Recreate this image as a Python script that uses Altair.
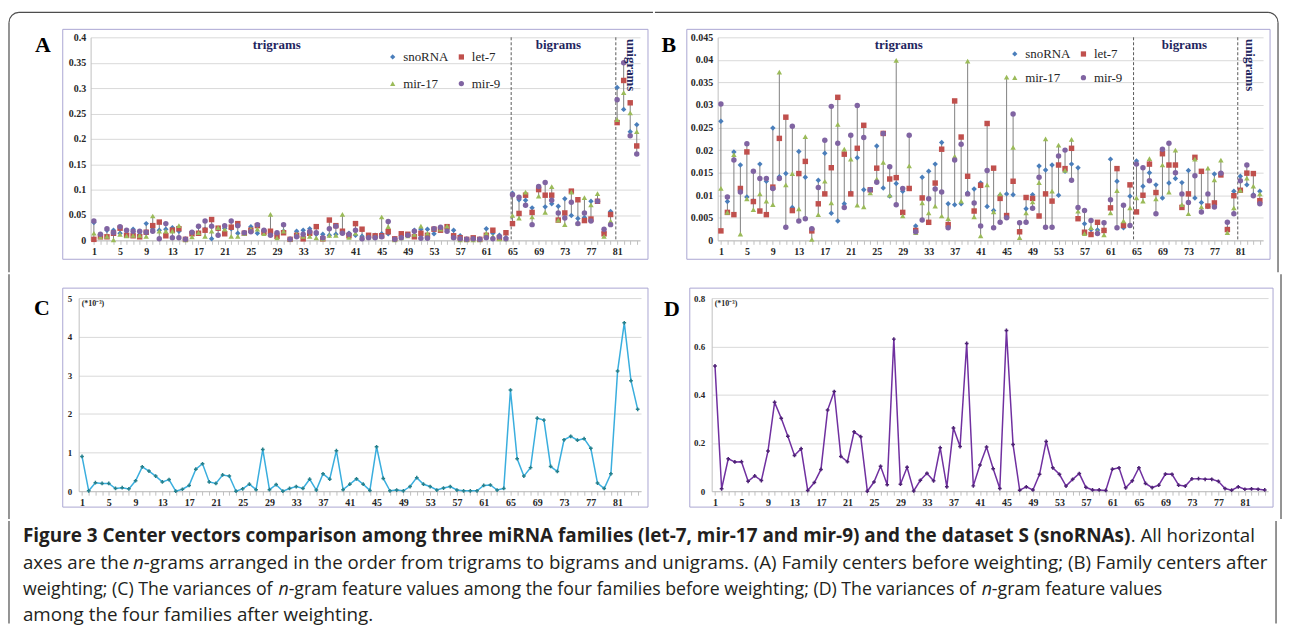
import altair as alt
import pandas as pd

IDX = list(range(1, 85))
FAMILIES = ["snoRNA", "let-7", "mir-17", "mir-9"]

# ---------------- Panel A: family centers before weighting ----------------
A_snoRNA = [0.035, 0.010, 0.020, 0.020, 0.014, 0.013, 0.022, 0.012, 0.033, 0.022,
            0.020, 0.022, 0.025, 0.018, 0.002, 0.015, 0.027, 0.022, 0.003, 0.023,
            0.024, 0.023, 0.014, 0.014, 0.027, 0.014, 0.018, 0.013, 0.014, 0.018,
            0.002, 0.018, 0.020, 0.023, 0.012, 0.012, 0.010, 0.012, 0.016, 0.014,
            0.010, 0.008, 0.007, 0.010, 0.013, 0.013, 0.003, 0.009, 0.010, 0.020,
            0.022, 0.022, 0.013, 0.023, 0.022, 0.020, 0.009, 0.002, 0.003, 0.002,
            0.023, 0.014, 0.010, 0.005, 0.093, 0.080, 0.079, 0.064, 0.103, 0.066,
            0.072, 0.067, 0.082, 0.049, 0.043, 0.045, 0.077, 0.077, 0.015, 0.057,
            0.301, 0.258, 0.214, 0.228]
A_let7 = [0.002, 0.007, 0.007, 0.014, 0.024, 0.010, 0.009, 0.007, 0.016, 0.029,
          0.036, 0.009, 0.020, 0.023, 0.002, 0.013, 0.014, 0.020, 0.041, 0.024,
          0.013, 0.026, 0.033, 0.014, 0.020, 0.029, 0.016, 0.018, 0.008, 0.015,
          0.002, 0.010, 0.003, 0.014, 0.027, 0.003, 0.040, 0.029, 0.018, 0.009,
          0.033, 0.022, 0.010, 0.009, 0.009, 0.017, 0.003, 0.013, 0.012, 0.007,
          0.014, 0.010, 0.022, 0.020, 0.027, 0.009, 0.005, 0.002, 0.005, 0.002,
          0.010, 0.020, 0.005, 0.015, 0.033, 0.053, 0.089, 0.055, 0.100, 0.089,
          0.089, 0.040, 0.054, 0.097, 0.080, 0.039, 0.042, 0.077, 0.013, 0.051,
          0.232, 0.315, 0.271, 0.186]
A_mir17 = [0.014, 0.007, 0.008, 0.001, 0.012, 0.009, 0.010, 0.010, 0.008, 0.048,
           0.018, 0.018, 0.018, 0.029, 0.001, 0.007, 0.015, 0.008, 0.018, 0.025,
           0.022, 0.008, 0.008, 0.013, 0.022, 0.022, 0.013, 0.051, 0.005, 0.018,
           0.002, 0.012, 0.008, 0.008, 0.005, 0.003, 0.010, 0.010, 0.051, 0.006,
           0.014, 0.006, 0.007, 0.007, 0.046, 0.027, 0.001, 0.005, 0.009, 0.012,
           0.028, 0.014, 0.023, 0.022, 0.028, 0.007, 0.001, 0.001, 0.001, 0.001,
           0.014, 0.008, 0.003, 0.003, 0.049, 0.044, 0.095, 0.046, 0.087, 0.055,
           0.106, 0.040, 0.031, 0.095, 0.034, 0.084, 0.070, 0.092, 0.008, 0.038,
           0.238, 0.291, 0.251, 0.214]
A_mir9 = [0.038, 0.012, 0.023, 0.015, 0.027, 0.020, 0.018, 0.018, 0.016, 0.018,
          0.003, 0.033, 0.005, 0.005, 0.002, 0.016, 0.028, 0.038, 0.028, 0.010,
          0.029, 0.038, 0.029, 0.015, 0.017, 0.031, 0.020, 0.010, 0.015, 0.031,
          0.002, 0.007, 0.012, 0.017, 0.015, 0.005, 0.023, 0.028, 0.014, 0.012,
          0.020, 0.003, 0.005, 0.005, 0.007, 0.037, 0.002, 0.005, 0.010, 0.018,
          0.004, 0.004, 0.023, 0.026, 0.018, 0.005, 0.003, 0.002, 0.003, 0.002,
          0.005, 0.003, 0.007, 0.003, 0.090, 0.085, 0.069, 0.031, 0.106, 0.114,
          0.079, 0.054, 0.044, 0.075, 0.033, 0.054, 0.038, 0.077, 0.022, 0.031,
          0.277, 0.350, 0.206, 0.170]

# ---------------- Panel B: family centers after weighting ----------------
B_snoRNA = [0.0264, 0.0086, 0.0196, 0.0167, 0.0096, 0.0088, 0.0169, 0.0131, 0.0249, 0.0141,
            0.0148, 0.0073, 0.0197, 0.0140, 0.0024, 0.0133, 0.0193, 0.0060, 0.0043, 0.0081,
            0.0105, 0.0183, 0.0112, 0.0111, 0.0209, 0.0116, 0.0098, 0.0126, 0.0109, 0.0115,
            0.0032, 0.0140, 0.0153, 0.0169, 0.0217, 0.0081, 0.0079, 0.0081, 0.0105, 0.0114,
            0.0127, 0.0075, 0.0066, 0.0100, 0.0103, 0.0101, 0.0020, 0.0070, 0.0101, 0.0165,
            0.0156, 0.0167, 0.0100, 0.0153, 0.0169, 0.0161, 0.0037, 0.0024, 0.0023, 0.0022,
            0.0180, 0.0131, 0.0028, 0.0098, 0.0176, 0.0120, 0.0150, 0.0123, 0.0094, 0.0127,
            0.0137, 0.0128, 0.0155, 0.0094, 0.0084, 0.0075, 0.0147, 0.0147, 0.0025, 0.0109,
            0.0142, 0.0123, 0.0101, 0.0109]
B_let7 = [0.0021, 0.0062, 0.0057, 0.0115, 0.0196, 0.0086, 0.0065, 0.0057, 0.0118, 0.0226,
          0.0273, 0.0066, 0.0148, 0.0175, 0.0021, 0.0081, 0.0103, 0.0161, 0.0317, 0.0191,
          0.0103, 0.0204, 0.0255, 0.0112, 0.0160, 0.0237, 0.0136, 0.0139, 0.0062, 0.0115,
          0.0022, 0.0094, 0.0040, 0.0127, 0.0202, 0.0035, 0.0309, 0.0229, 0.0142, 0.0065,
          0.0122, 0.0259, 0.0160, 0.0093, 0.0055, 0.0131, 0.0019, 0.0095, 0.0093, 0.0054,
          0.0103, 0.0087, 0.0167, 0.0159, 0.0204, 0.0048, 0.0018, 0.0013, 0.0040, 0.0022,
          0.0072, 0.0159, 0.0033, 0.0123, 0.0063, 0.0100, 0.0169, 0.0106, 0.0192, 0.0167,
          0.0167, 0.0073, 0.0103, 0.0184, 0.0153, 0.0076, 0.0083, 0.0145, 0.0024, 0.0099,
          0.0111, 0.0149, 0.0148, 0.0088]
B_mir17 = [0.0115, 0.0062, 0.0190, 0.0014, 0.0092, 0.0068, 0.0103, 0.0087, 0.0079, 0.0373,
           0.0123, 0.0148, 0.0070, 0.0230, 0.0002, 0.0057, 0.0131, 0.0083, 0.0257, 0.0202,
           0.0180, 0.0078, 0.0074, 0.0105, 0.0136, 0.0173, 0.0100, 0.0399, 0.0054, 0.0165,
           0.0017, 0.0083, 0.0061, 0.0076, 0.0054, 0.0048, 0.0186, 0.0087, 0.0397, 0.0052,
           0.0010, 0.0123, 0.0063, 0.0103, 0.0362, 0.0206, 0.0006, 0.0061, 0.0085, 0.0128,
           0.0225, 0.0109, 0.0211, 0.0155, 0.0224, 0.0065, 0.0015, 0.0028, 0.0020, 0.0012,
           0.0061, 0.0110, 0.0043, 0.0072, 0.0094, 0.0087, 0.0181, 0.0092, 0.0167, 0.0107,
           0.0200, 0.0079, 0.0059, 0.0180, 0.0074, 0.0160, 0.0134, 0.0178, 0.0017, 0.0072,
           0.0111, 0.0138, 0.0120, 0.0103]
B_mir9 = [0.0302, 0.0096, 0.0178, 0.0107, 0.0214, 0.0153, 0.0137, 0.0137, 0.0115, 0.0137,
          0.0029, 0.0253, 0.0043, 0.0048, 0.0026, 0.0117, 0.0222, 0.0297, 0.0215, 0.0073,
          0.0233, 0.0299, 0.0228, 0.0112, 0.0129, 0.0237, 0.0163, 0.0079, 0.0115, 0.0233,
          0.0019, 0.0045, 0.0092, 0.0114, 0.0107, 0.0028, 0.0178, 0.0213, 0.0103, 0.0083,
          0.0032, 0.0155, 0.0028, 0.0040, 0.0050, 0.0280, 0.0039, 0.0040, 0.0071, 0.0140,
          0.0029, 0.0029, 0.0187, 0.0200, 0.0133, 0.0073, 0.0066, 0.0044, 0.0015, 0.0039,
          0.0090, 0.0028, 0.0078, 0.0033, 0.0169, 0.0161, 0.0132, 0.0059, 0.0202, 0.0215,
          0.0150, 0.0103, 0.0084, 0.0143, 0.0063, 0.0103, 0.0074, 0.0149, 0.0040, 0.0059,
          0.0132, 0.0167, 0.0099, 0.0081]

# ---------------- Panel C / D: variances (*10^-3) ----------------
C_variance = [0.90, 0.01, 0.22, 0.20, 0.20, 0.07, 0.09, 0.06, 0.27, 0.63,
              0.52, 0.39, 0.24, 0.30, 0.00, 0.05, 0.15, 0.57, 0.71, 0.24,
              0.20, 0.42, 0.39, 0.00, 0.06, 0.18, 0.04, 1.08, 0.04, 0.17,
              0.00, 0.07, 0.12, 0.07, 0.31, 0.03, 0.45, 0.31, 1.05, 0.04,
              0.18, 0.32, 0.18, 0.02, 1.15, 0.33, 0.01, 0.03, 0.01, 0.12,
              0.35, 0.18, 0.12, 0.03, 0.08, 0.12, 0.03, 0.01, 0.01, 0.01,
              0.15, 0.16, 0.03, 0.07, 2.62, 0.84, 0.39, 0.61, 1.89, 1.84,
              0.64, 0.51, 1.33, 1.42, 1.32, 1.36, 1.11, 0.21, 0.07, 0.45,
              3.11, 4.36, 2.86, 2.12]
D_variance = [0.519, 0.010, 0.134, 0.121, 0.122, 0.041, 0.063, 0.044, 0.166, 0.368,
              0.302, 0.228, 0.148, 0.176, 0.003, 0.036, 0.090, 0.336, 0.413, 0.144,
              0.122, 0.246, 0.226, 0.000, 0.038, 0.103, 0.027, 0.630, 0.029, 0.099,
              0.001, 0.045, 0.074, 0.043, 0.180, 0.018, 0.262, 0.185, 0.612, 0.022,
              0.108, 0.183, 0.093, 0.011, 0.666, 0.193, 0.004, 0.018, 0.005, 0.070,
              0.206, 0.097, 0.070, 0.021, 0.049, 0.073, 0.016, 0.005, 0.005, 0.003,
              0.091, 0.097, 0.014, 0.043, 0.097, 0.032, 0.015, 0.025, 0.071, 0.070,
              0.025, 0.021, 0.051, 0.052, 0.049, 0.049, 0.041, 0.011, 0.004, 0.018,
              0.008, 0.010, 0.008, 0.005]

A_ticks = [0, 0.05, 0.1, 0.15, 0.2, 0.25, 0.3, 0.35, 0.4]
B_ticks = [0, 0.005, 0.01, 0.015, 0.02, 0.025, 0.03, 0.035, 0.04, 0.045]
C_ticks = [0, 1, 2, 3, 4, 5]
D_ticks = [0, 0.2, 0.4, 0.6, 0.8]
SECTION_BREAKS_A = [64.8, 80.8]
SECTION_BREAKS_B = [64.55, 80.6]

# ---------------- styles ----------------
SERIF = "Liberation Serif"
SANS = "Open Sans"
COLORS = ["#4a7ebb", "#c0504d", "#9bbb59", "#8064a2"]
SHAPES = ["diamond", "square", "triangle-up", "circle"]
NAVY = "#1f2660"
FRAME = "#aaa6d3"
GRID = "#d9d9d9"
AXIS = "#bfbfbf"
TEXT = "#262626"
BORDER = "#4d4d4d"

ONE = pd.DataFrame({"d": [0]})


def long_df(series):
    rows = []
    for fam, vals in zip(FAMILIES, series):
        for i, v in zip(IDX, vals):
            rows.append({"idx": i, "family": fam, "value": v})
    return pd.DataFrame(rows)


def xscale(rng=None):
    if rng is None:
        return alt.Scale(domain=[0.5, 84.5], nice=False, zero=False)
    return alt.Scale(domain=[0.5, 84.5], range=rng, nice=False, zero=False)


def xaxis():
    return alt.Axis(values=IDX, labelExpr="(datum.value - 1) % 4 == 0 ? datum.label : ''",
                    title=None, grid=False, labelAngle=0, labelFont=SERIF,
                    labelFontWeight="bold", labelFontSize=10, labelColor=TEXT,
                    domainColor=AXIS, tickColor=AXIS, tickSize=4, labelPadding=2,
                    labelFlush=False, labelOverlap=False, labelBound=False)


def yaxis(ticks, fontsize=10, pad=5, offset=0):
    return alt.Axis(values=ticks, format="~g", title=None, grid=True, gridColor=GRID,
                    ticks=False, labelFont=SERIF, labelFontWeight="bold",
                    labelFontSize=fontsize, labelColor=TEXT, domainColor=AXIS,
                    labelPadding=pad, labelFlush=False, labelOverlap=False, offset=offset)


def deco_text(txt, x, y, size, color="black", weight="bold", angle=0, font=SERIF, align="center"):
    return alt.Chart(ONE).mark_text(text=txt, font=font, fontSize=size, fontWeight=weight,
                                    color=color, angle=angle, align=align,
                                    baseline="middle").encode(x=alt.value(x), y=alt.value(y))


def frame(x1, x2, y1, y2):
    return alt.Chart(ONE).mark_rect(fillOpacity=0, stroke=FRAME, strokeWidth=1).encode(
        x=alt.value(x1), x2=alt.value(x2), y=alt.value(y1), y2=alt.value(y2))


def hline(x1, x2, y):
    return alt.Chart(ONE).mark_rule(color=BORDER, strokeWidth=1.2).encode(
        x=alt.value(x1), x2=alt.value(x2), y=alt.value(y))


def vline(x, y1, y2):
    return alt.Chart(ONE).mark_rule(color=BORDER, strokeWidth=1.2).encode(
        x=alt.value(x), y=alt.value(y1), y2=alt.value(y2))


def corner(cx, cy, t1, t2):
    return alt.Chart(ONE).mark_arc(radius=10.6, radius2=9.4, theta=t1, theta2=t2,
                                   color=BORDER).encode(x=alt.value(cx), y=alt.value(cy))


def center_panel(series, ticks, ymax, breaks, W, H, letter, lx, ly, frame_box,
                 legend_xy, row_pad, tri_x, bi_x, uni_x, border_layers):
    df = long_df(series)
    ysc = alt.Scale(domain=[0, ymax], nice=False, zero=True)
    ya = yaxis(ticks, 10)
    leg = alt.Legend(orient="none", legendX=legend_xy[0], legendY=legend_xy[1], columns=2,
                     direction="horizontal", title=None, labelFont=SERIF, labelFontSize=13,
                     labelColor=TEXT, symbolSize=28, rowPadding=row_pad, columnPadding=6,
                     labelOffset=4, padding=0)
    rules = alt.Chart(df).transform_aggregate(
        lo="min(value)", hi="max(value)", groupby=["idx"]
    ).mark_rule(color="#808080", strokeWidth=1).encode(
        x=alt.X("idx:Q", scale=xscale(), axis=xaxis()),
        y=alt.Y("lo:Q", scale=ysc, axis=ya),
        y2="hi:Q")
    points = alt.Chart(df).mark_point(filled=True, size=30, opacity=1).encode(
        x=alt.X("idx:Q", scale=xscale(), axis=xaxis()),
        y=alt.Y("value:Q", scale=ysc, axis=ya),
        color=alt.Color("family:N", scale=alt.Scale(domain=FAMILIES, range=COLORS), legend=leg),
        shape=alt.Shape("family:N", scale=alt.Scale(domain=FAMILIES, range=SHAPES), legend=leg))
    dashes = alt.Chart(pd.DataFrame({"pos": breaks})).mark_rule(
        color="#595959", strokeDash=[3, 2], strokeWidth=1).encode(
        x=alt.X("pos:Q", scale=xscale(), axis=xaxis()), y=alt.value(0), y2=alt.value(H))
    layers = border_layers + [
        frame(*frame_box),
        dashes,
        rules,
        points,
        deco_text("trigrams", tri_x, 8, 13, NAVY),
        deco_text("bigrams", bi_x, 8, 13, NAVY),
        deco_text("unigrams", uni_x, 28, 13, NAVY, angle=90),
        deco_text(letter, lx, ly, 22),
    ]
    return alt.layer(*layers).properties(width=W, height=H)


def variance_panel(values, ticks, ymax, W, H, letter, lx, ly, frame_box, line_color,
                   marker_color, border_layers, shift=0, note_x=3):
    df = pd.DataFrame({"idx": IDX, "v": values})
    ysc = alt.Scale(domain=[0, ymax], nice=False, zero=True)
    ya = yaxis(ticks, 9, 7, offset=shift)
    xs = xscale([-shift, W]) if shift else xscale()
    line = alt.Chart(df).mark_line(color=line_color, strokeWidth=1.5).encode(
        x=alt.X("idx:Q", scale=xs, axis=xaxis()),
        y=alt.Y("v:Q", scale=ysc, axis=ya))
    pts = alt.Chart(df).mark_point(shape="cross", filled=True, size=14, color=marker_color,
                                   opacity=1).encode(
        x=alt.X("idx:Q", scale=xs, axis=xaxis()),
        y=alt.Y("v:Q", scale=ysc, axis=ya))
    layers = border_layers + [
        frame(*frame_box),
        line,
        pts,
        deco_text("(*10\u207b\u00b3)", note_x, 6, 8, TEXT, align="left"),
        deco_text(letter, lx, ly, 22),
    ]
    return alt.layer(*layers).properties(width=W, height=H)


PI = 3.14159265

# outer figure border pieces (coordinates relative to each panel's plot origin)
border_a = [hline(-72, 565, -25), vline(-82, -15, 236), corner(-72, -15, 1.5 * PI, 2 * PI)]
border_b = [hline(-63, 553, -25), vline(563, -15, 236), corner(553, -15, 0, 0.5 * PI)]
border_c = [vline(-82, -24, 222)]
border_d = [vline(572, -24, 222)]

panel_a = center_panel([A_snoRNA, A_let7, A_mir17, A_mir9], A_ticks, 0.4, SECTION_BREAKS_A,
                       552, 204, "A", -48, 8, (-28, 560, -8, 223), (297, 13), 13,
                       187, 470, 543, border_a)
panel_b = center_panel([B_snoRNA, B_let7, B_mir17, B_mir9], B_ticks, 0.045, SECTION_BREAKS_B,
                       548, 204, "B", -49, 8, (-31, 555, -8, 223), (292, 10), 10,
                       182, 469, 535, border_b)
# panel C's plot starts 12px left of the shared column origin
panel_c = variance_panel(C_variance, C_ticks, 5, 553, 194, "C", -49, 10,
                         (-28, 560, -10, 210), "#3aaede", "#25808c", border_c,
                         shift=12, note_x=-9)
panel_d = variance_panel(D_variance, D_ticks, 0.8, 559, 194, "D", -40, 11,
                         (-22, 564, -10, 210), "#7030a0", "#4e2275", border_d)

# ---------------- caption ----------------
CAP_COLOR = "#231f20"


def cap(txt, x, y, size, weight="normal", style="normal"):
    return alt.Chart(ONE).mark_text(text=txt, font=SANS, fontSize=size, fontWeight=weight,
                                    fontStyle=style, color=CAP_COLOR, align="left",
                                    baseline="middle").encode(x=alt.value(x), y=alt.value(y))


caption = alt.layer(
    vline(-82, 0, 103),
    vline(1191, 0, 103),
    cap("Figure 3 Center vectors comparison among three miRNA families (let-7, mir-17 and mir-9) and the dataset S (snoRNAs)", -68, 15, 19.0, weight="bold"),
    cap(". All horizontal", 1045, 15, 18.8),
    cap("axes are the", -68, 42, 18.75),
    cap("n", 42.7, 42, 18.75, style="italic"),
    cap("-grams arranged in the order from trigrams to bigrams and unigrams. (A) Family centers before weighting; (B) Family centers after", 53.4, 42, 18.75),
    cap("weighting; (C) The variances of", -68, 69, 17.8),
    cap("n", 188.8, 69, 17.8, style="italic"),
    cap("-gram feature values among the four families before weighting; (D) The variances of", 199.0, 69, 17.8),
    cap("n", 895.3, 69, 17.8, style="italic"),
    cap("-gram feature values", 905.5, 69, 17.8),
    cap("among the four families after weighting.", -68, 94, 18.9),
).properties(width=1000, height=60)

row1 = alt.hconcat(panel_a, panel_b, spacing=0).resolve_scale(
    color="independent", shape="independent"
).resolve_legend(color="independent", shape="independent")
row2 = alt.hconcat(panel_c, panel_d, spacing=11)
chart = alt.vconcat(row1, row2, caption, spacing=0).properties(
    padding={"left": 0, "top": 2, "right": 0, "bottom": 0},
    background="white",
).configure_view(stroke=None)

chart.save("out.html", embed_options={"renderer": "svg", "actions": False})
